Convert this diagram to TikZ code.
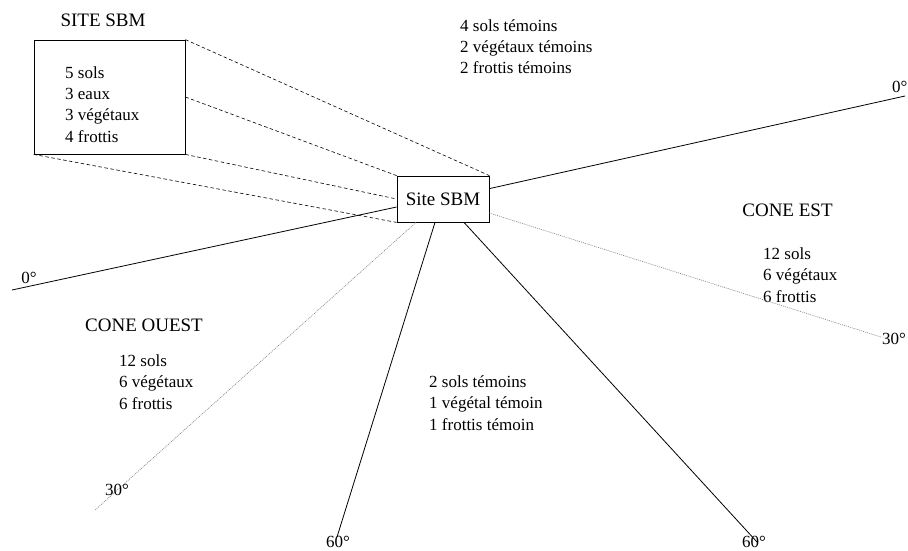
\documentclass[tikz,border=0pt]{standalone}
\usepackage{fontspec}
\setmainfont{Liberation Serif}
\usetikzlibrary{calc}
\begin{document}
\begin{tikzpicture}[x=1pt,y=-1pt,
  box/.style={draw,line width=0.8pt,inner sep=0pt},
  head/.style={font=\fontsize{19}{22}\selectfont,inner sep=0pt},
  lst/.style={font=\fontsize{17}{21.2}\selectfont,align=left,anchor=west,inner sep=0pt},
  dashline/.style={dash pattern=on 3.5pt off 2.5pt,line width=0.6pt},
  dotline/.style={gray,dash pattern=on 1pt off 1pt,line width=0.6pt},
  solidline/.style={line width=0.8pt},
  deg/.style={font=\fontsize{17}{20}\selectfont,inner sep=0pt}]
\useasboundingbox (0,0) rectangle (908,550);

% boxes
\node[box,minimum width=151pt,minimum height=114pt] (big) at (109.5,97) {};
\node[box,minimum width=92pt,minimum height=46pt,font=\fontsize{19}{22}\selectfont] (sbm) at (443,199) {Site SBM};

% texts
\node[head] (sitehead) at (103,20) {SITE SBM};
\node[lst] (bigtxt) at (65,104.5) {5 sols\\3 eaux\\3 végétaux\\4 frottis};
\node[lst] (toptxt) at (460,46.5) {4 sols témoins\\2 végétaux témoins\\2 frottis témoins};
\node[head] (esthead) at (787.5,210) {CONE EST};
\node[lst] (esttxt) at (763,275) {12 sols\\6 végétaux\\6 frottis};
\node[head] (ouesthead) at (144,325) {CONE OUEST};
\node[lst] (ouesttxt) at (119,382) {12 sols\\6 végétaux\\6 frottis};
\node[lst] (bottxt) at (429,403) {2 sols témoins\\1 végétal témoin\\1 frottis témoin};

% dashed lines from big box to small box
\draw[dashline] (big.north east) -- (sbm.north east);
\draw[dashline] (big.east) -- (sbm.north west);
\draw[dashline] (big.south east) -- (sbm.west);
\draw[dashline] (big.south west) -- (sbm.south west);

% end points
\coordinate (eR0) at (905,96);
\coordinate (eL0) at (12,290);
\coordinate (eR30) at (881,337);
\coordinate (eL30) at (95,510);
\coordinate (eL60) at (337,537);
\coordinate (eR60) at (757,542);

% rays
\draw[solidline] ([yshift=-13pt]sbm.north east) -- (eR0);
\draw[solidline] ([yshift=-8pt]sbm.west) -- (eL0);
\draw[dotline] ([yshift=-14pt]sbm.east) -- (eR30);
\draw[dotline] ([xshift=-27pt]sbm.south) -- (eL30);
\draw[solidline] ([xshift=-8pt]sbm.south) -- (eL60);
\draw[solidline] ([xshift=21pt]sbm.south) -- (eR60);

% angle labels
\node[deg,anchor=west] (dR0) at (892,87) {0°};
\node[deg] (dL0) at (29,278) {0°};
\node[deg,anchor=west] (dR30) at (882,339) {30°};
\node[deg] (dL30) at (117,490) {30°};
\node[deg] (dL60) at (338,542) {60°};
\node[deg] (dR60) at (754,542) {60°};
\end{tikzpicture}
\end{document}
